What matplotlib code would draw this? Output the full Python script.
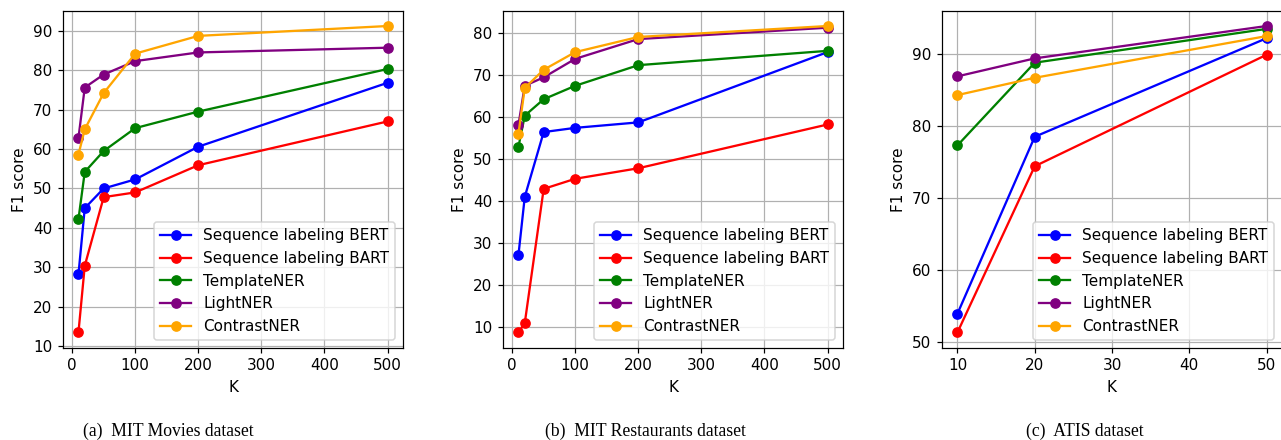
import matplotlib
matplotlib.use('Agg')
import matplotlib.pyplot as plt

# 数据
k_big = [10, 20, 50, 100, 200, 500]
k_atis = [10, 20, 50]

movies_bert = [28.2, 45.0, 50.0, 52.3, 60.6, 76.8]
movies_bart = [13.5, 30.4, 47.8, 49.0, 55.9, 67.0]
movies_template = [42.2, 54.2, 59.5, 65.3, 69.5, 80.3]
movies_light = [62.8, 75.6, 78.9, 82.3, 84.5, 85.7]
movies_contrast = [58.6, 65.0, 74.2, 84.2, 88.7, 91.2]

rest_bert = [27.2, 41.0, 56.4, 57.4, 58.7, 75.4]
rest_bart = [8.8, 11.0, 42.9, 45.3, 47.8, 58.2]
rest_template = [52.9, 60.3, 64.2, 67.4, 72.3, 75.7]
rest_light = [58.1, 67.4, 69.4, 73.8, 78.5, 81.2]
rest_contrast = [56.0, 66.9, 71.2, 75.4, 79.0, 81.6]

atis_bert = [53.9, 78.5, 92.2]
atis_bart = [51.3, 74.4, 89.9]
atis_template = [77.3, 88.8, 93.5]
atis_light = [86.9, 89.4, 93.9]
atis_contrast = [84.3, 86.7, 92.5]

methods = ['Sequence labeling BERT', 'Sequence labeling BART', 'TemplateNER', 'LightNER', 'ContrastNER']
colors = ['blue', 'red', 'green', 'purple', 'orange']
captions = ['(a)  MIT Movies dataset', '(b)  MIT Restaurants dataset', '(c)  ATIS dataset']

panels = [
    (k_big, [movies_bert, movies_bart, movies_template, movies_light, movies_contrast]),
    (k_big, [rest_bert, rest_bart, rest_template, rest_light, rest_contrast]),
    (k_atis, [atis_bert, atis_bart, atis_template, atis_light, atis_contrast]),
]

W, H = 1281, 440
DPI = 110
fig = plt.figure(figsize=(W / DPI, H / DPI), dpi=DPI)

# 坐标轴位置（像素）
lefts = [63, 503, 942]
width = 340
top, bottom = 10.7, 347.7
caption_x = [168, 645, 1085]

for i, (ks, series) in enumerate(panels):
    ax = fig.add_axes([lefts[i] / W, 1 - bottom / H, width / W, (bottom - top) / H])
    for vals, name, c in zip(series, methods, colors):
        ax.plot(ks, vals, 'o-', color=c, label=name)
    ax.set_xlabel('K')
    ax.set_ylabel('F1 score')
    ax.grid(True)
    ax.legend(loc='lower right')
    fig.text(caption_x[i] / W, 1 - 431 / H, captions[i], ha='center', va='center',
             family=['Liberation Serif', 'DejaVu Serif'], fontsize=11.5)

plt.savefig('out.png', dpi=DPI)
